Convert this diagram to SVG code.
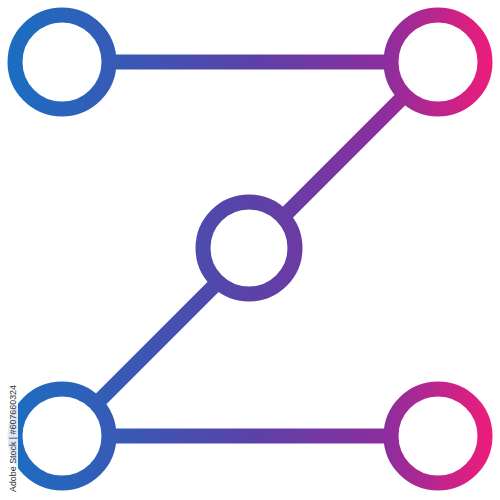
<svg xmlns="http://www.w3.org/2000/svg" width="500" height="500" viewBox="0 0 500 500">
  <defs>
    <linearGradient id="g" gradientUnits="userSpaceOnUse" x1="8" y1="0" x2="492" y2="0">
      <stop offset="0" stop-color="#1a6ec1"/>
      <stop offset="0.5" stop-color="#5a42a8"/>
      <stop offset="0.78" stop-color="#8c2e9e"/>
      <stop offset="1" stop-color="#ee1c7a"/>
    </linearGradient>
  </defs>
  <style>
    .edge { stroke: url(#g); stroke-width: 15; fill: none; }
    .node { stroke: url(#g); stroke-width: 15; fill: #ffffff; }
    .wm { font-family: "Liberation Sans", Arial, sans-serif; font-size: 9px; fill: #333333; }
  </style>
  <rect width="500" height="500" fill="#ffffff"/>
  <g id="connectors">
    <line class="edge" x1="62" y1="62" x2="438" y2="62"/>
    <line class="edge" x1="438" y1="62" x2="62" y2="438"/>
    <line class="edge" x1="62" y1="436" x2="438" y2="436"/>
  </g>
  <g id="node-top-left"><circle class="node" cx="62" cy="62" r="47"/></g>
  <g id="node-top-right"><circle class="node" cx="438" cy="62" r="47"/></g>
  <g id="node-center"><circle class="node" cx="249" cy="248" r="46"/></g>
  <g id="node-bottom-left"><circle class="node" cx="62" cy="436" r="47"/></g>
  <g id="node-bottom-right"><circle class="node" cx="438" cy="436" r="47"/></g>
  <rect x="5" y="383" width="13" height="111" fill="#ffffff" opacity="0.85"/>
  <text class="wm" transform="translate(15.5,492) rotate(-90)" textLength="107" lengthAdjust="spacingAndGlyphs">Adobe Stock | #607660324</text>
</svg>
